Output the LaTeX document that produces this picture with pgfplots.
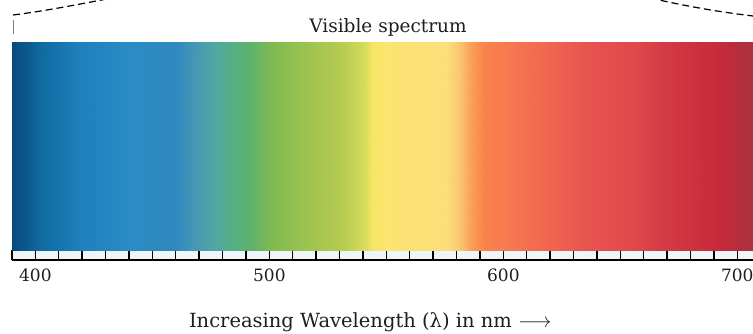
\documentclass[border=0pt]{standalone}
\usepackage{fontspec}
\setmainfont{DejaVu Serif}
\usepackage{pgfplots}
\pgfplotsset{compat=1.18}
\definecolor{txt}{RGB}{30,30,30}
\definecolor{stripc}{RGB}{238,246,250}
\begin{document}
\begin{tikzpicture}[x=1pt,y=1pt]
\useasboundingbox (0,0) rectangle (753,334);
\begin{axis}[
  at={(12pt,74pt)}, anchor=south west,
  scale only axis, width=741pt, height=218pt,
  xmin=390, xmax=706.7, ymin=-0.048, ymax=1,
  axis x line=bottom, axis y line=none,
  axis line style={-, line width=1.6pt, black},
  every outer x axis line/.append style={-},
  xtick={400,500,600,700},
  minor xtick={390,410,420,430,440,450,460,470,480,490,510,520,530,540,550,560,570,580,590,610,620,630,640,650,660,670,680,690},
  tick align=inside, major tick length=10pt, minor tick length=10pt,
  tick style={line width=1.4pt, black},
  minor tick style={line width=1.4pt, black},
  /pgf/number format/assume math mode=true,
  xticklabel style={anchor=base, yshift=-22pt, font=\fontsize{17}{20}\selectfont, text=txt},
  xlabel={Increasing Wavelength (λ) in nm $\longrightarrow$},
  xlabel style={at={(axis description cs:0.4835,0)}, anchor=base, yshift=-68pt, font=\fontsize{19.5}{22}\selectfont, text=txt},
  axis background/.style={fill=stripc},
  colormap={spec}{
    rgb255(390pt)=(10,74,126)
    rgb255(396pt)=(11,88,140)
    rgb255(402pt)=(15,106,160)
    rgb255(419pt)=(30,128,188)
    rgb255(440pt)=(42,140,196)
    rgb255(460pt)=(48,136,190)
    rgb255(468.6pt)=(72,152,180)
    rgb255(477pt)=(80,168,160)
    rgb255(485pt)=(84,176,128)
    rgb255(490.5pt)=(90,176,112)
    rgb255(501.5pt)=(130,186,82)
    rgb255(518pt)=(160,196,80)
    rgb255(532pt)=(184,204,80)
    rgb255(541pt)=(215,220,90)
    rgb255(544pt)=(245,229,101)
    rgb255(550pt)=(251,229,112)
    rgb255(561pt)=(251,224,117)
    rgb255(575pt)=(251,224,122)
    rgb255(581pt)=(248,200,112)
    rgb255(587pt)=(250,154,85)
    rgb255(592pt)=(249,130,74)
    rgb255(601pt)=(247,122,80)
    rgb255(621pt)=(240,100,80)
    rgb255(635pt)=(232,84,80)
    rgb255(656pt)=(224,72,74)
    rgb255(670pt)=(210,58,68)
    rgb255(691.5pt)=(200,42,58)
    rgb255(699pt)=(185,45,60)
    rgb255(706.7pt)=(170,50,62)
  },
  point meta min=390, point meta max=706.7,
]
\addplot[surf, shader=interp, mesh/rows=2, point meta=x] table {
x y
390 0
396 0
402 0
419 0
440 0
460 0
468.6 0
477 0
485 0
490.5 0
501.5 0
518 0
532 0
541 0
544 0
550 0
561 0
575 0
581 0
587 0
592 0
601 0
621 0
635 0
656 0
670 0
691.5 0
699 0
706.7 0

390 1
396 1
402 1
419 1
440 1
460 1
468.6 1
477 1
485 1
490.5 1
501.5 1
518 1
532 1
541 1
544 1
550 1
561 1
575 1
581 1
587 1
592 1
601 1
621 1
635 1
656 1
670 1
691.5 1
699 1
706.7 1
};
\end{axis}
\node[anchor=base, font=\fontsize{18.5}{21}\selectfont, text=txt] at (388,301) {Visible spectrum};
\draw[black, line width=1.2pt, dash pattern=on 7pt off 4pt] (13,319) .. controls (45,323) and (75,329) .. (112,336);
\draw[black, line width=1.2pt, dash pattern=on 7pt off 4pt] (650,336) .. controls (690,327) and (720,322) .. (753,318);
\draw[gray, line width=0.8pt] (13,314) -- (13,300);
\end{tikzpicture}
\end{document}
